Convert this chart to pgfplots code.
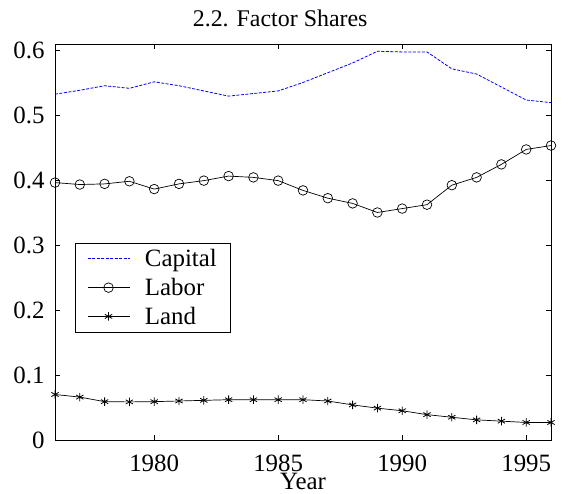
\documentclass[border=0pt]{standalone}
\usepackage{fontspec}
\setmainfont{Liberation Serif}
\usepackage{pgfplots}
\pgfplotsset{compat=1.18}
\begin{document}
\begin{tikzpicture}
\path[use as bounding box] (-55bp,-54bp) rectangle (515bp,440bp);
\begin{axis}[
  scale only axis,
  width=496bp, height=396bp,
  xmin=1976, xmax=1996,
  ymin=0, ymax=0.6092,
  xtick={1980,1985,1990,1995},
  ytick={0,0.1,0.2,0.3,0.4,0.5,0.6},
  yticklabels={0,0.1,0.2,0.3,0.4,0.5,0.6},
  xticklabels={1980,1985,1990,1995},
  tick align=inside,
  major tick length=5bp,
  axis line style={line width=0.8bp},
  every tick/.style={black, line width=0.6bp},
  font=\fontsize{25}{28}\selectfont,
  ticklabel style={font=\fontsize{25}{28}\selectfont},
  /pgf/number format/assume math mode=true,
  xticklabel style={yshift=-11bp},
  yticklabel style={xshift=-7bp},
  title={2.2. Factor Shares},
  title style={at={(axis description cs:0.454,1)}, anchor=base, yshift=12bp, font=\fontsize{24}{28}\selectfont},
  xlabel={Year},
  xlabel style={at={(axis description cs:0.5,0)}, anchor=base, yshift=-49bp, font=\fontsize{25}{28}\selectfont},
  clip=false,
  legend style={at={(axis description cs:0.04,0.497)}, anchor=north west, draw=black, line width=0.6bp, fill=white, font=\fontsize{25}{28}\selectfont, inner xsep=12bp, inner ysep=5bp, row sep=8bp, nodes={inner ysep=1bp, inner xsep=1bp}, /tikz/every odd column/.append style={column sep=14bp}},
  legend cell align=left,
  legend image code/.code={\draw[mark repeat=2,mark phase=2] plot coordinates {(0bp,0bp) (21bp,0bp) (42bp,0bp)};},
]
\addplot[blue, line width=0.8bp, dash pattern=on 3bp off 1.5bp] coordinates {
(1976,0.532) (1977,0.538) (1978,0.545) (1979,0.541) (1980,0.551) (1981,0.545) (1982,0.537) (1983,0.529) (1984,0.533) (1985,0.537) (1986,0.550) (1987,0.565) (1988,0.580) (1989,0.598) (1990,0.597) (1991,0.597) (1992,0.571) (1993,0.563) (1994,0.543) (1995,0.523) (1996,0.519)
};
\addlegendentry{Capital}
\addplot[black, line width=0.7bp, mark=o, mark size=4.8bp, mark options={solid, line width=0.7bp}] coordinates {
(1976,0.396) (1977,0.393) (1978,0.394) (1979,0.398) (1980,0.386) (1981,0.394) (1982,0.399) (1983,0.406) (1984,0.404) (1985,0.399) (1986,0.384) (1987,0.372) (1988,0.364) (1989,0.350) (1990,0.356) (1991,0.362) (1992,0.392) (1993,0.404) (1994,0.424) (1995,0.447) (1996,0.453)
};
\addlegendentry{Labor}
\addplot[black, line width=0.7bp, mark=asterisk, mark size=4.2bp, mark options={solid, line width=0.8bp}] coordinates {
(1976,0.070) (1977,0.066) (1978,0.059) (1979,0.0586) (1980,0.059) (1981,0.060) (1982,0.061) (1983,0.062) (1984,0.062) (1985,0.062) (1986,0.062) (1987,0.060) (1988,0.054) (1989,0.049) (1990,0.045) (1991,0.039) (1992,0.035) (1993,0.031) (1994,0.029) (1995,0.027) (1996,0.027)
};
\addlegendentry{Land}
\end{axis}
\end{tikzpicture}
\end{document}
